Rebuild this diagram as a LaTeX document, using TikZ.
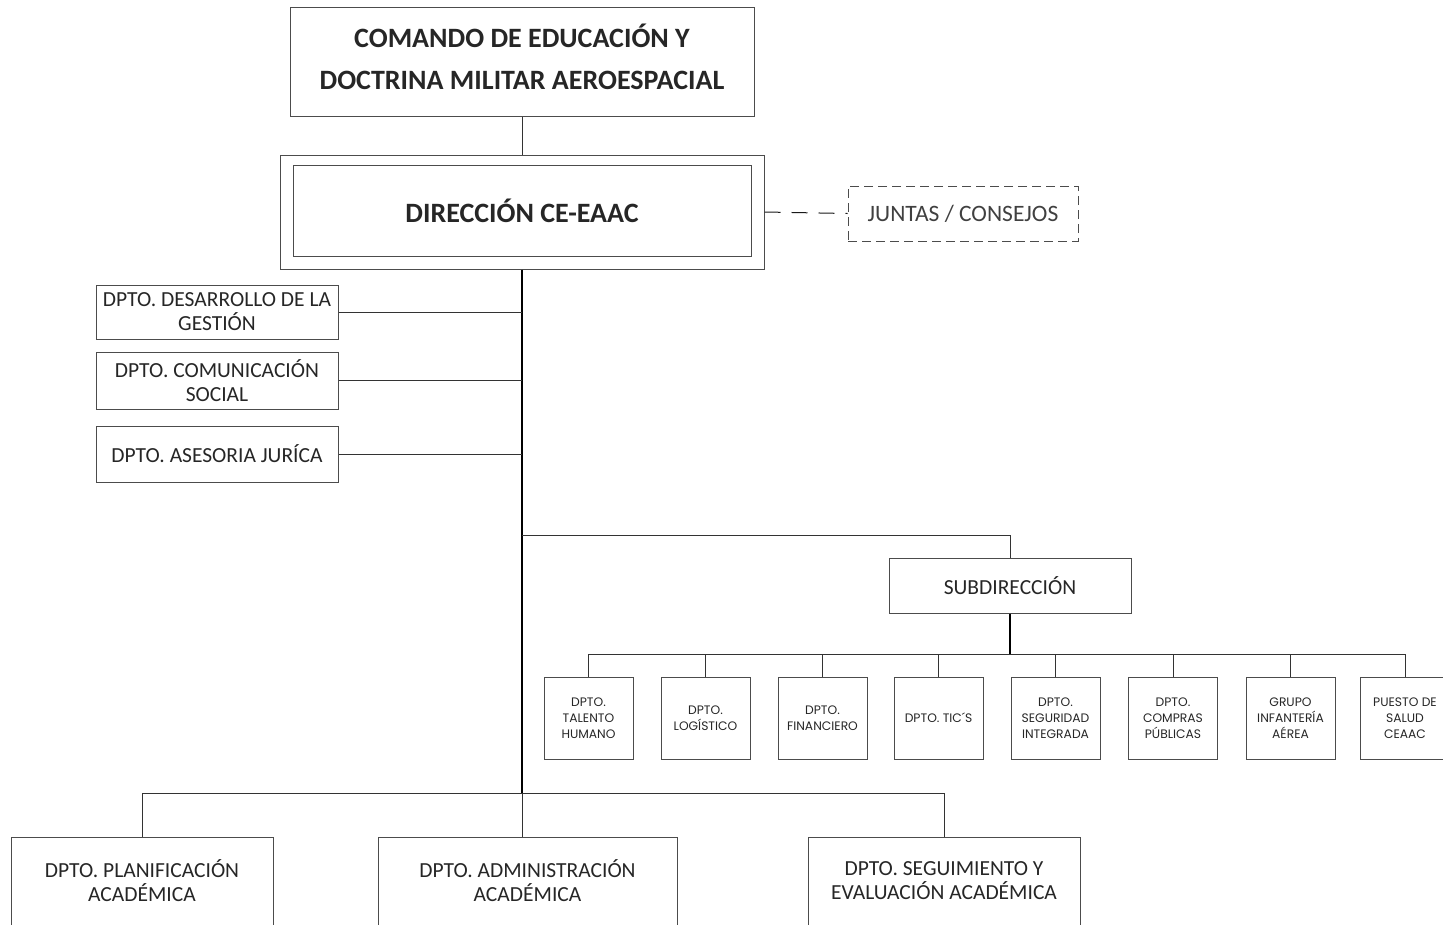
\documentclass[tikz,border=0pt]{standalone}
\usepackage{fontspec}
\setmainfont{Carlito}
\newfontfamily\gothfont{Poppins}
\usepackage{tikz}
\usetikzlibrary{positioning}
\tikzset{>=latex}
\tikzstyle{box} = [rectangle, draw=black!70, line width=1pt, inner sep=0pt, align=center, text=black!85, font=\fontsize{21.5}{24}\selectfont]
\tikzstyle{headbox} = [box, font=\fontsize{28}{42}\selectfont\bfseries]
\tikzstyle{unitbox} = [box, minimum width=89pt, minimum height=82pt, font=\gothfont\fontsize{12.3}{16}\selectfont]
\tikzstyle{link} = [-, draw=black!80, line width=1pt]
\tikzstyle{trunk} = [-, draw=black, line width=2pt]

\begin{document}
\begin{tikzpicture}[x=1pt, y=-1pt]
\useasboundingbox (0,0) rectangle (1443,924);
% mando y direccion
\node [headbox, text depth=9pt, minimum width=464pt, minimum height=109pt] (CMD) at (522, 61.5) {COMANDO DE EDUCACIÓN Y\\DOCTRINA MILITAR AEROESPACIAL};
\node [box, minimum width=484pt, minimum height=114pt] (DIR) at (522, 212) {};
\node [headbox, minimum width=458pt, minimum height=91pt] (DIRin) at (522, 211) {DIRECCIÓN CE-EAAC};
\node [box, dash pattern=on 9pt off 5pt, minimum width=230pt, minimum height=55pt, font=\fontsize{23.5}{24}\selectfont, text=black!75] (JUN) at (963, 213.5) {JUNTAS / CONSEJOS};
\draw [link] (CMD) to (DIR);
\draw [link, draw=black!90, dash pattern=on 16pt off 11pt] (DIR.east) to (JUN.west);
% asesores
\node [box, minimum width=242pt, minimum height=54pt] (DES) at (217, 312) {DPTO. DESARROLLO DE LA\\GESTIÓN};
\node [box, minimum width=242pt, minimum height=57pt] (COM) at (217, 380.5) {DPTO. COMUNICACIÓN\\SOCIAL};
\node [box, minimum width=242pt, minimum height=56pt] (ASE) at (217, 454) {DPTO. ASESORIA JURÍCA};
\coordinate (J1) at (522, 535);
\coordinate (J2) at (522, 793);
\draw [trunk] (DIR.south) to (J2);
\draw [link] (DES.east) to (DES.east -| DIR.south);
\draw [link] (COM.east) to (COM.east -| DIR.south);
\draw [link] (ASE.east) to (ASE.east -| DIR.south);
% subdireccion
\node [box, minimum width=242pt, minimum height=55pt] (SUB) at (1010, 585.5) {SUBDIRECCIÓN};
\draw [link] (J1) -| (SUB.north);
\coordinate (BUS) at (1010, 654);
\draw [trunk] (SUB.south) to (BUS);
\node [unitbox] (TAL) at (588.5, 718) {DPTO.\\TALENTO\\HUMANO};
\node [unitbox] (LOG) at (705.5, 718) {DPTO.\\LOGÍSTICO};
\node [unitbox] (FIN) at (822.5, 718) {DPTO.\\FINANCIERO};
\node [unitbox] (TIC) at (938.5, 718) {DPTO. TIC´S};
\node [unitbox] (SEG) at (1055.5, 718) {DPTO.\\SEGURIDAD\\INTEGRADA};
\node [unitbox] (CPU) at (1173, 718) {DPTO.\\COMPRAS\\PÚBLICAS};
\node [unitbox] (INF) at (1290.5, 718) {GRUPO\\INFANTERÍA\\AÉREA};
\node [unitbox] (SAL) at (1405, 718) {PUESTO DE\\SALUD\\CEAAC};
\draw [link] (BUS) -| (TAL.north);
\draw [link] (BUS) -| (LOG.north);
\draw [link] (BUS) -| (FIN.north);
\draw [link] (BUS) -| (TIC.north);
\draw [link] (BUS) -| (SEG.north);
\draw [link] (BUS) -| (CPU.north);
\draw [link] (BUS) -| (INF.north);
\draw [link] (BUS) -| (SAL.north);
% academicos
\node [box, minimum width=262pt, minimum height=88pt] (PLA) at (142, 881) {DPTO. PLANIFICACIÓN\\ACADÉMICA};
\node [box, minimum width=299pt, minimum height=88pt] (ADM) at (527.5, 881) {DPTO. ADMINISTRACIÓN\\ACADÉMICA};
\node [box, minimum width=272pt, minimum height=88pt] (EVA) at (944, 881) {DPTO. SEGUIMIENTO Y\\EVALUACIÓN ACADÉMICA};
\draw [link] (J2) to (J2 |- ADM.north);
\draw [link] (J2) -| (PLA.north);
\draw [link] (J2) -| (EVA.north);
\end{tikzpicture}
\end{document}
